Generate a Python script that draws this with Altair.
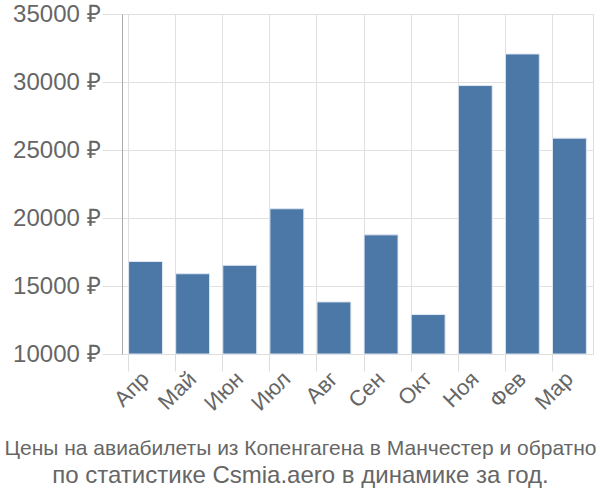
import altair as alt
import pandas as pd

months = ["Апр", "Май", "Июн", "Июл", "Авг", "Сен", "Окт", "Ноя", "Фев", "Мар"]
prices = [16800, 15900, 16520, 20680, 13830, 18760, 12900, 29740, 32060, 25870]
y_ticks = [10000, 15000, 20000, 25000, 30000, 35000]
base_value = 10000
title_line1 = "Цены на авиабилеты из Копенгагена в Манчестер и обратно"
title_line2 = "по статистике Csmia.aero в динамике за год."

df = pd.DataFrame({"month": months, "price": prices, "base": [base_value] * len(months)})

chart = alt.Chart(df).mark_bar(
    color="#4c78a8", stroke="#dfe7f0", strokeWidth=1
).encode(
    x=alt.X("month:N", sort=months, title=None,
            scale=alt.Scale(paddingInner=0.28, paddingOuter=0.14),
            axis=alt.Axis(labelAngle=-45, labelFontSize=22, labelColor="#666666",
                          labelFont="Liberation Sans", bandPosition=0,
                          labelAlign="right", labelBaseline="middle",
                          grid=True, gridColor="#e0e0e0", tickColor="#dddddd",
                          tickSize=17, domainColor="#dddddd", labelPadding=4)),
    y=alt.Y("price:Q", title=None,
            scale=alt.Scale(domain=[10000, 35000], nice=False, zero=False),
            axis=alt.Axis(values=y_ticks, labelExpr="datum.value + ' ₽'",
                          labelFontSize=24, labelColor="#666666",
                          labelFont="Liberation Sans",
                          gridColor="#e0e0e0", tickColor="#e0e0e0", tickSize=20,
                          labelPadding=2, domainColor="#aaaaaa")),
    y2="base:Q"
).properties(
    width=471, height=340,
    autosize=alt.AutoSizeParams(type="none"),
    padding={"left": 122, "top": 14, "right": 7, "bottom": 146},
    title=alt.TitleParams(text=title_line1, subtitle=title_line2,
                          orient="bottom", fontSize=21, subtitleFontSize=24,
                          font="Liberation Sans", subtitleFont="Liberation Sans",
                          fontWeight="normal", color="#666666",
                          subtitleColor="#666666", anchor="middle", offset=24,
                          subtitlePadding=5, dx=-57)
).configure_view(stroke="#dddddd")

chart.save("out.html", embed_options={"renderer": "svg", "actions": False})
